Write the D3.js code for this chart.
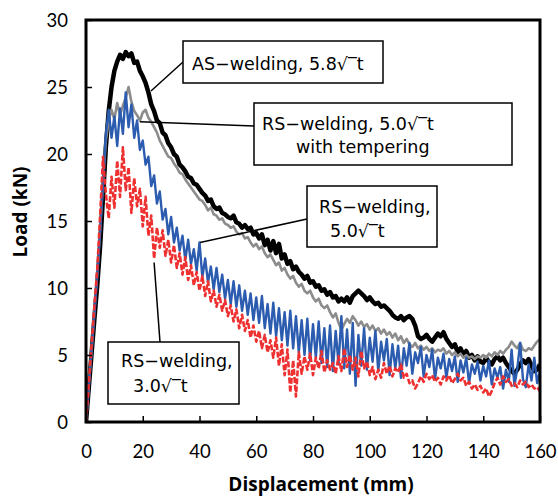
<!DOCTYPE html>
<html>
<head>
<meta charset="utf-8">
<script src="https://cdn.jsdelivr.net/npm/d3@7"></script>
<style>
  body { margin: 0; background: #fff; }
  svg { display: block; }
  .tick-label { font-family: Lato, "Open Sans", sans-serif; font-size: 18.5px; fill: #000; }
  .axis-title { font-family: "Open Sans", sans-serif; font-size: 19px; font-weight: bold; fill: #000; }
  .note { font-family: "DejaVu Sans", sans-serif; font-size: 17.5px; fill: #000; }
</style>
</head>
<body>
<div id="chart"></div>
<script>
// displacement ticks and load ticks
const xTicks = [0, 20, 40, 60, 80, 100, 120, 140, 160]
const yTicks = [0, 5, 10, 15, 20, 25, 30]

// load (kN) read every 1 mm of displacement, 0..160
const asWelding = [
  0, 2.6, 5.2, 7.8, 10.3, 13.2, 16.8, 20.5, 23.2, 25.0,
  26.2, 26.9, 27.4, 27.1, 27.6, 27.3, 27.5, 26.8, 26.9, 26.2,
  25.8, 25.3, 24.6, 23.7, 23.2, 22.5, 22.3, 21.6, 21.4, 20.8,
  20.5, 20.0, 19.8, 19.2, 19.0, 18.7, 18.3, 18.2, 17.8, 17.7,
  17.4, 17.1, 16.9, 16.5, 16.6, 16.1, 15.9, 16.0, 15.6, 15.5,
  15.3, 15.2, 15.4, 14.9, 14.8, 14.5, 14.7, 14.4, 14.5, 14.0,
  14.1, 13.7, 14.0, 13.2, 13.6, 12.8, 13.5, 12.6, 13.3, 12.2,
  12.5, 11.8, 12.0, 11.4, 11.6, 11.2, 11.0, 10.7, 10.9, 10.4,
  10.5, 10.1, 10.2, 9.8, 9.9, 9.5, 9.7, 9.3, 9.4, 9.0,
  9.2, 9.0, 9.3, 8.9, 9.4, 9.6, 9.8, 9.6, 9.4, 9.1,
  9.3, 9.0, 8.8, 8.9, 8.6, 8.7, 8.5, 8.3, 8.0, 7.8,
  7.7, 7.9, 7.6, 7.8, 7.9, 7.7, 7.2, 6.4, 6.2, 6.3,
  6.5, 6.2, 6.0, 6.3, 6.6, 6.4, 6.7, 6.2, 5.9, 5.6,
  5.8, 5.2, 5.5, 5.0, 5.3, 4.8, 5.0, 4.6, 4.9, 4.5,
  4.4, 4.8, 4.5, 4.3, 4.7, 4.9, 4.6, 4.8, 4.4, 4.1,
  3.8, 3.6, 3.9, 4.3, 4.6, 4.4, 4.7, 4.2, 3.8, 3.9,
  4.3
]

const rsTempering = [
  0, 2.8, 5.5, 8.4, 11.2, 14.5, 18.0, 21.0, 22.5, 23.3,
  22.6, 23.8, 22.9, 23.6, 24.2, 25.0, 23.9, 23.2, 22.9, 22.5,
  23.1, 23.3, 22.7, 22.4, 22.0, 21.6, 21.0, 20.6, 20.2, 19.8,
  19.7, 19.3, 19.0, 18.6, 18.5, 18.1, 17.8, 17.5, 17.2, 16.9,
  16.6, 16.5, 16.2, 15.8, 16.0, 15.5, 15.4, 15.1, 15.2, 14.8,
  14.7, 14.5, 14.6, 14.2, 14.0, 14.1, 13.7, 13.8, 13.4, 13.1,
  13.3, 12.9, 13.1, 12.6, 12.3, 12.5, 12.1, 11.7, 11.9, 11.3,
  11.5, 11.0, 10.7, 10.9, 10.4, 10.1, 10.3, 9.8, 9.6, 9.8,
  9.3, 9.0, 9.2, 8.7, 8.5, 8.7, 8.2, 7.8, 8.1, 7.4,
  6.9, 7.3, 7.7, 7.4, 7.9, 7.6, 7.2, 7.5, 7.1, 7.3,
  6.9, 7.2, 6.8, 7.0, 6.6, 6.9, 6.5, 6.7, 6.3, 6.6,
  6.1, 6.4, 5.9, 6.2, 5.8, 5.6, 5.9, 5.5, 5.7, 5.4,
  5.6, 5.3, 5.5, 5.2, 5.4, 5.3, 5.5, 5.1, 5.3, 5.0,
  5.2, 4.9, 5.1, 4.8, 5.0, 4.8, 4.9, 4.7, 4.9, 4.8,
  5.0, 4.8, 5.1, 4.9, 5.2, 5.0, 5.3, 5.1, 5.4, 5.6,
  6.0, 5.7, 5.5, 5.9, 5.4, 5.3, 5.5, 5.4, 5.7, 6.0,
  6.2
]

const rs50 = [
  0, 2.7, 5.4, 8.2, 11.0, 14.2, 17.8, 21.5, 23.3, 21.2,
  22.8, 20.6, 23.4, 21.5, 24.6, 22.0, 23.7, 21.2, 22.5, 20.3,
  21.0, 19.2, 19.8, 17.6, 18.4, 16.3, 17.2, 15.1, 15.9, 14.0,
  15.3, 13.4, 14.5, 12.8, 13.9, 12.1, 13.6, 11.8, 12.9, 11.3,
  13.4, 10.8, 12.2, 10.4, 11.6, 9.9, 11.5, 9.7, 11.0, 9.2,
  10.6, 8.8, 10.5, 8.6, 10.2, 8.3, 9.8, 8.0, 9.6, 7.6,
  9.3, 7.4, 9.4, 7.0, 8.8, 6.6, 8.9, 6.4, 8.5, 6.1,
  8.2, 5.7, 8.3, 5.5, 7.9, 5.2, 7.6, 5.0, 7.7, 4.6,
  7.3, 4.8, 7.5, 4.4, 7.0, 4.1, 7.2, 3.8, 6.8, 4.3,
  7.9, 4.0, 6.9, 3.6, 7.4, 2.7, 6.5, 4.2, 7.0, 3.9,
  6.3, 4.5, 6.8, 3.8, 6.0, 4.6, 6.2, 3.5, 5.8, 4.0,
  5.7, 3.3, 5.5, 4.2, 5.9, 3.6, 5.2, 4.4, 5.6, 3.4,
  5.0, 4.1, 5.4, 3.2, 4.8, 4.0, 5.1, 3.3, 4.7, 3.8,
  4.9, 3.0, 4.6, 3.7, 4.8, 2.9, 4.3, 3.6, 4.5, 3.1,
  4.2, 3.4, 4.6, 2.8, 4.0, 3.3, 4.1, 2.5, 3.9, 3.0,
  5.4, 2.7, 4.0, 5.9, 3.2, 2.6, 4.3, 3.1, 4.8, 2.9,
  3.8
]

const rs30 = [
  0, 2.9, 5.8, 8.8, 11.5, 15.5, 19.8, 17.0, 15.2, 18.3,
  16.0, 19.5, 16.8, 20.5, 17.3, 19.0, 15.6, 18.2, 16.1, 17.4,
  14.6, 16.8, 13.9, 15.4, 12.2, 14.5, 13.0, 14.3, 12.4, 13.6,
  11.9, 13.2, 11.5, 12.6, 11.0, 12.3, 10.6, 11.7, 10.2, 11.2,
  9.8, 10.9, 9.4, 10.5, 9.0, 9.8, 8.6, 9.5, 8.3, 9.1,
  7.9, 8.7, 7.5, 8.4, 7.0, 8.0, 6.8, 7.6, 6.3, 7.2,
  6.0, 6.8, 5.5, 6.5, 5.2, 6.1, 4.8, 6.3, 4.2, 5.8,
  3.5, 5.4, 2.2, 4.6, 1.9, 5.2, 3.6, 4.9, 3.9, 5.1,
  3.5, 4.8, 4.0, 5.3, 3.7, 4.6, 3.9, 4.4, 3.6, 4.9,
  3.8, 5.5, 4.1, 5.0, 3.9, 4.8, 3.4, 5.3, 4.0, 4.5,
  3.5, 4.1, 3.2, 3.9, 3.3, 4.4, 3.6, 4.2, 3.4, 4.0,
  3.7, 4.3, 3.3, 3.6, 2.9, 3.1, 2.5, 2.9, 3.4, 3.0,
  3.6, 3.2, 3.5, 3.0, 3.3, 2.8, 3.4, 3.1, 3.5, 2.9,
  3.2, 3.6, 3.1, 3.3, 2.7, 3.0, 2.5, 2.8, 2.4, 2.7,
  2.2, 2.5, 1.9, 2.3, 2.9, 3.3, 2.8, 3.4, 3.0, 3.2,
  2.7, 2.9, 2.6, 3.1, 2.8, 3.0, 2.6, 2.8, 2.5, 2.6,
  2.3
]

const width = 558, height = 498
const margin = { top: 20, right: 18, bottom: 76, left: 86 }
const plotW = width - margin.left - margin.right
const plotH = height - margin.top - margin.bottom

const svg = d3.select("#chart")
    .append("svg")
    .attr("width", width)
    .attr("height", height)

const xScale = d3.scaleLinear().domain([0, 160]).range([margin.left, margin.left + plotW])
const yScale = d3.scaleLinear().domain([0, 30]).range([margin.top + plotH, margin.top])

svg.append("clipPath")
    .attr("id", "plot-clip")
    .append("rect")
    .attr("x", margin.left)
    .attr("y", margin.top)
    .attr("width", plotW)
    .attr("height", plotH)

// series, drawn back to front
const series = [
    { values: asWelding, color: "#000000", width: 4.5, dash: null },
    { values: rsTempering, color: "#8c8c8c", width: 2.6, dash: null },
    { values: rs50, color: "#2b5caf", width: 2.4, dash: null },
    { values: rs30, color: "#ee3030", width: 2.6, dash: "6,2" }
]

const line = d3.line()
    .x((d, i) => xScale(i))
    .y(d => yScale(d))

const plot = svg.append("g").attr("clip-path", "url(#plot-clip)")
series.forEach(s => {
    plot.append("path")
        .datum(s.values)
        .attr("fill", "none")
        .attr("stroke", s.color)
        .attr("stroke-width", s.width)
        .attr("stroke-linejoin", "round")
        .attr("stroke-dasharray", s.dash)
        .attr("d", line)
})

// axes with inside ticks
const xAxis = d3.axisBottom(xScale).tickValues(xTicks).tickSizeInner(-6).tickSizeOuter(0).tickFormat(d3.format("d"))
const yAxis = d3.axisLeft(yScale).tickValues(yTicks).tickSizeInner(-6).tickSizeOuter(0).tickFormat(d3.format("d"))

const gx = svg.append("g")
    .attr("transform", `translate(0,${margin.top + plotH})`)
    .call(xAxis)
gx.select(".domain").remove()
gx.selectAll("line").attr("stroke", "#000").attr("stroke-width", 1.5)
gx.selectAll("text").attr("class", "tick-label").attr("dy", null).attr("y", 36)

const gy = svg.append("g")
    .attr("transform", `translate(${margin.left},0)`)
    .call(yAxis)
gy.select(".domain").remove()
gy.selectAll("line").attr("stroke", "#000").attr("stroke-width", 1.5)
gy.selectAll("text").attr("class", "tick-label").attr("x", -18).attr("dy", "0.35em")

// frame
svg.append("rect")
    .attr("x", margin.left)
    .attr("y", margin.top)
    .attr("width", plotW)
    .attr("height", plotH)
    .attr("fill", "none")
    .attr("stroke", "#000")
    .attr("stroke-width", 3)

// axis titles
svg.append("text")
    .attr("class", "axis-title")
    .attr("x", 321)
    .attr("y", 491)
    .attr("text-anchor", "middle")
    .text("Displacement (mm)")

svg.append("text")
    .attr("class", "axis-title")
    .attr("transform", "translate(27,212) rotate(-90)")
    .attr("text-anchor", "middle")
    .text("Load (kN)")

// annotations: box, text lines, leader line (point on curve given in data units)
const notes = [
    { box: [183, 41, 200, 42], lines: [["AS−welding, 5.8√‾t", 192, 70]], from: [183, 62], to: [22.9, 24.7] },
    { box: [254, 103, 258, 62], lines: [["RS−welding, 5.0√‾t", 262, 130], ["with tempering", 296, 153]], from: [254, 126], to: [19.0, 22.4] },
    { box: [307, 186, 130, 61], lines: [["RS−welding,", 319, 213], ["5.0√‾t", 330, 237]], from: [307, 219], to: [40.2, 13.4] },
    { box: [108, 342, 131, 62], lines: [["RS−welding,", 121, 367], ["3.0√‾t", 133, 392]], from: [160, 342], to: [24.0, 11.9] }
]

notes.forEach(n => {
    svg.append("line")
        .attr("x1", n.from[0]).attr("y1", n.from[1])
        .attr("x2", xScale(n.to[0])).attr("y2", yScale(n.to[1]))
        .attr("stroke", "#000")
        .attr("stroke-width", 1.5)
    svg.append("rect")
        .attr("x", n.box[0]).attr("y", n.box[1])
        .attr("width", n.box[2]).attr("height", n.box[3])
        .attr("fill", "#fff")
        .attr("stroke", "#000")
        .attr("stroke-width", 1.5)
    n.lines.forEach(l => {
        svg.append("text")
            .attr("class", "note")
            .attr("x", l[1])
            .attr("y", l[2])
            .text(l[0])
    })
})
</script>
</body>
</html>
